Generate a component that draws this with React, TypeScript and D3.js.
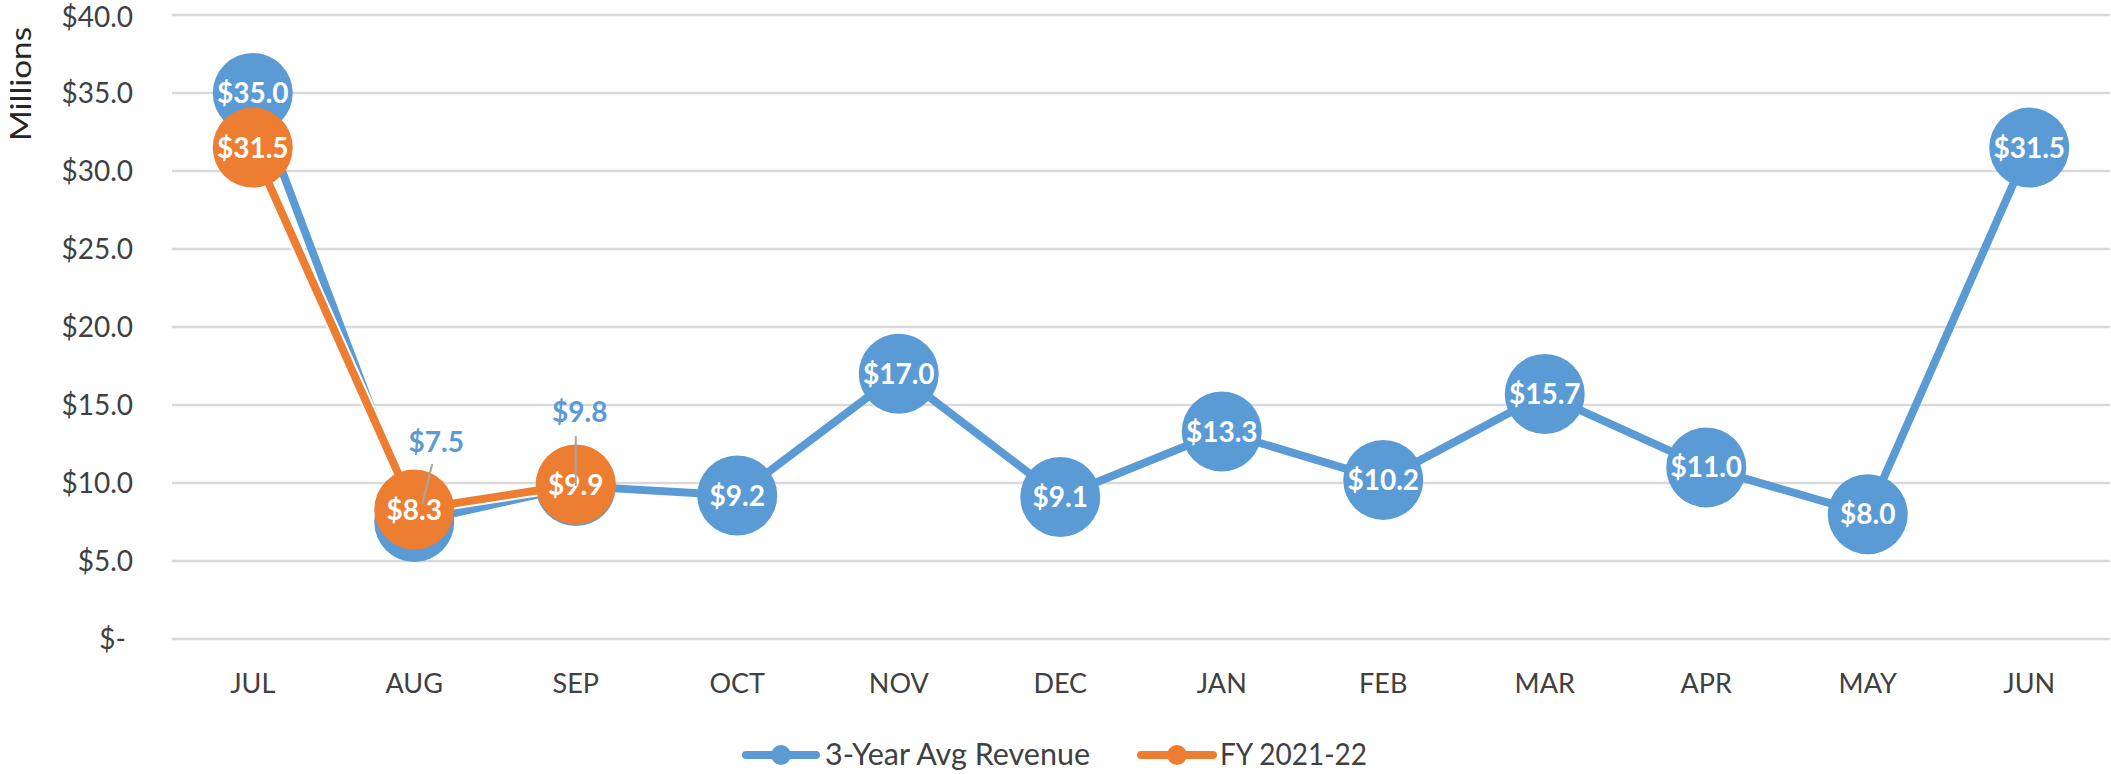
import React from "react";
import * as d3 from "d3";

const months = ["JUL", "AUG", "SEP", "OCT", "NOV", "DEC", "JAN", "FEB", "MAR", "APR", "MAY", "JUN"];
const avgRevenue = [35.0, 7.5, 9.8, 9.2, 17.0, 9.1, 13.3, 10.2, 15.7, 11.0, 8.0, 31.5];
const fy2122 = [31.5, 8.3, 9.9];
const yTicks = [0, 5, 10, 15, 20, 25, 30, 35, 40];
const seriesNames = ["3-Year Avg Revenue", "FY 2021-22"];

const BLUE = "#5B9BD5";
const ORANGE = "#ED7D31";
const FONT = "Lato, 'Open Sans', sans-serif";

export default function App() {
  const W = 2111, H = 774;
  const x = d3.scalePoint<string>().domain(months).range([172, 2110]).padding(0.5);
  const y = d3.scaleLinear().domain([0, 40]).range([639, 15]);
  const line = d3.line<number>().x((_, i) => x(months[i])!).y((d) => y(d));
  const fmt = (v: number) => (v === 0 ? "$-" : "$" + v.toFixed(1));
  const R = 40;
  const displaced: Record<number, { dx: number; dy: number; lx1: number; ly1: number; lx2: number; ly2: number }> = {
    1: { dx: 22, dy: -80, lx1: 18, ly1: -58, lx2: 8, ly2: -18 },
    2: { dx: 4, dy: -74, lx1: 0, ly1: -50, lx2: 0, ly2: 0 },
  };
  const legend = [
    { name: seriesNames[0], color: BLUE, x0: 742, x1: 820, tx: 825, tl: 265 },
    { name: seriesNames[1], color: ORANGE, x0: 1137, x1: 1217, tx: 1220, tl: 147 },
  ];
  return (
    <div style={{ position: "fixed", left: 0, top: 0 }}>
      <svg width={W} height={H} style={{ display: "block", background: "#fff" }}>
        {yTicks.map((t) => (
          <g key={t}>
            <line x1={172} x2={2110} y1={y(t)} y2={y(t)} stroke="#d9d9d9" strokeWidth={2.5} />
            <text
              x={t === 0 ? 126 : 133}
              y={y(t) + (t === 40 ? 2 : 0)}
              dy="0.36em"
              textAnchor="end"
              fontFamily={FONT}
              fontSize={28}
              fill="#404040"
            >
              {fmt(t)}
            </text>
          </g>
        ))}
        <text
          transform="translate(31,84) rotate(-90)"
          textAnchor="middle"
          fontFamily={FONT}
          fontSize={29}
          textLength={114}
          lengthAdjust="spacingAndGlyphs"
          fill="#262626"
        >
          Millions
        </text>
        {months.map((m) => (
          <text key={m} x={x(m)} y={693} textAnchor="middle" fontFamily={FONT} fontSize={27} fill="#404040">
            {m}
          </text>
        ))}
        <path d={line(avgRevenue)!} fill="none" stroke={BLUE} strokeWidth={8} strokeLinejoin="round" />
        {avgRevenue.map((v, i) => (
          <circle key={"b" + i} cx={x(months[i])} cy={y(v)} r={R} fill={BLUE} />
        ))}
        {avgRevenue.map((v, i) =>
          displaced[i] ? null : (
            <text
              key={"bl" + i}
              x={x(months[i])}
              y={y(v)}
              dy="0.36em"
              textAnchor="middle"
              fontFamily={FONT}
              fontWeight="bold"
              fontSize={28}
              fill="#fff"
            >
              {fmt(v)}
            </text>
          )
        )}
        <path d={line(fy2122)!} fill="none" stroke="#fff" strokeWidth={12} strokeLinejoin="round" />
        <path d={line(fy2122)!} fill="none" stroke={ORANGE} strokeWidth={8} strokeLinejoin="round" />
        {fy2122.map((v, i) => (
          <circle key={"o" + i} cx={x(months[i])} cy={y(v)} r={R} fill={ORANGE} />
        ))}
        {fy2122.map((v, i) => (
          <text
            key={"ol" + i}
            x={x(months[i])}
            y={y(v)}
            dy="0.36em"
            textAnchor="middle"
            fontFamily={FONT}
            fontWeight="bold"
            fontSize={28}
            fill="#fff"
          >
            {fmt(v)}
          </text>
        ))}
        {Object.keys(displaced).map((k) => {
          const i = +k;
          const d = displaced[i];
          const cx = x(months[i])!;
          const cy = y(avgRevenue[i]);
          return (
            <g key={"d" + i}>
              <line x1={cx + d.lx1} y1={cy + d.ly1} x2={cx + d.lx2} y2={cy + d.ly2} stroke="#a6a6a6" strokeWidth={2} />
              <text
                x={cx + d.dx}
                y={cy + d.dy}
                dy="0.36em"
                textAnchor="middle"
                fontFamily={FONT}
                fontWeight="bold"
                fontSize={28}
                fill={BLUE}
              >
                {fmt(avgRevenue[i])}
              </text>
            </g>
          );
        })}
        {legend.map((l) => (
          <g key={l.name}>
            <line x1={l.x0 + 4} x2={l.x1 - 4} y1={755} y2={755} stroke={l.color} strokeWidth={8} strokeLinecap="round" />
            <circle cx={(l.x0 + l.x1) / 2} cy={755} r={10} fill={l.color} />
            <text x={l.tx} y={765} fontFamily={FONT} fontSize={30} textLength={l.tl} lengthAdjust="spacingAndGlyphs" fill="#404040">
              {l.name}
            </text>
          </g>
        ))}
      </svg>
    </div>
  );
}
